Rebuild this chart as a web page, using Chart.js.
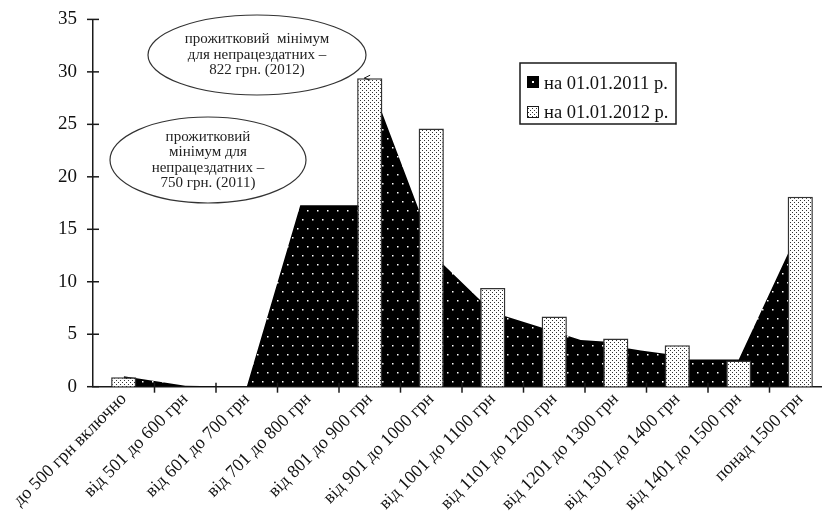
<!DOCTYPE html>
<html lang="uk">
<head>
<meta charset="UTF-8">
<title>Розподіл за розміром доходу</title>
<script src="https://cdn.jsdelivr.net/npm/chart.js"></script>
<style>
    html, body { margin: 0; padding: 0; background: #fff; overflow: hidden; }
    #wrap { width: 831px; height: 515px; }
</style>
</head>
<body>
<div id="wrap"><canvas id="incomeChart" width="831" height="515"></canvas></div>
<script>
const categories = [
    'до 500 грн включно', 'від 501 до 600 грн', 'від 601 до 700 грн', 'від 701 до 800 грн',
    'від 801 до 900 грн', 'від 901 до 1000 грн', 'від 1001 до 1100 грн', 'від 1101 до 1200 грн',
    'від 1201 до 1300 грн', 'від 1301 до 1400 грн', 'від 1401 до 1500 грн', 'понад 1500 грн'
];
// на 01.01.2012 р. - bars
const values2012 = [0.9, 0, 0, 0, 29.4, 24.6, 9.4, 6.7, 4.6, 3.95, 2.5, 18.1];
// на 01.01.2011 р. - area outline, x is position along the category axis (0 = first category)
const area2011X = [0, 1, 2, 2.87, 3.85, 4.0, 5.1, 6.0, 7.0, 7.43, 7.8, 8.21, 8.41, 8.8, 9.0, 10.0, 11.0];
const area2011Y = [1.0, 0.1, 0, 17.3, 17.3, 29.2, 12.2, 7.1, 5.25, 4.45, 4.3, 3.65, 3.45, 3.15, 2.6, 2.6, 15.2];
const yMax = 35;
const yStep = 5;
const legendLabels = ['на 01.01.2011 р.', 'на 01.01.2012 р.'];
const note2012 = ['прожитковий  мінімум', 'для непрацездатних –', '822 грн. (2012)'];
const note2011 = ['прожитковий', 'мінімум для', 'непрацездатних –', '750 грн. (2011)'];

const SERIF = "'Liberation Serif', 'Times New Roman', serif";
const INK = '#1a1a1a';

// black fill with sparse white dots
function darkPattern() {
    const c = document.createElement('canvas');
    c.width = 10; c.height = 18;
    const g = c.getContext('2d');
    g.fillStyle = '#000';
    g.fillRect(0, 0, 10, 18);
    g.fillStyle = '#fff';
    g.fillRect(2, 3, 1.5, 1.5);
    g.fillRect(7, 12, 1.5, 1.5);
    return g.createPattern(c, 'repeat');
}

// white fill with fine dark dots
function lightPattern() {
    const c = document.createElement('canvas');
    c.width = 4; c.height = 4;
    const g = c.getContext('2d');
    g.fillStyle = '#fff';
    g.fillRect(0, 0, 4, 4);
    g.fillStyle = '#333';
    g.fillRect(0, 0, 1, 1);
    g.fillRect(2, 2, 1, 1);
    return g.createPattern(c, 'repeat');
}

const dark = darkPattern();
const light = lightPattern();

function line(ctx, x1, y1, x2, y2) {
    ctx.beginPath();
    ctx.moveTo(x1, y1);
    ctx.lineTo(x2, y2);
    ctx.stroke();
}

function note(ctx, cx, cy, rx, ry, lines, lh) {
    ctx.beginPath();
    ctx.ellipse(cx, cy, rx, ry, 0, 0, Math.PI * 2);
    ctx.stroke();
    ctx.fillStyle = '#222';
    ctx.font = '15px ' + SERIF;
    ctx.textAlign = 'center';
    ctx.textBaseline = 'middle';
    const top = cy - (lines.length - 1) * lh / 2;
    lines.forEach((t, i) => ctx.fillText(t, cx, top + i * lh));
}

const extras = {
    id: 'extras',
    afterDraw(chart) {
        const { ctx, scales: { x, y } } = chart;
        ctx.save();
        ctx.strokeStyle = INK;
        ctx.lineWidth = 1.5;
        // tick marks crossing both axes
        y.ticks.forEach(t => {
            const py = y.getPixelForValue(t.value);
            line(ctx, x.left - 6, py, x.left + 6, py);
        });
        const w = x.width / categories.length;
        for (let i = 1; i <= categories.length; i++) {
            const px = x.left + i * w;
            line(ctx, px, y.bottom - 4, px, y.bottom + 6);
        }

        // arrowhead on top of the 801-900 bar
        const bar = chart.getDatasetMeta(0).data[4];
        const ay = bar.y;
        const ax = bar.x - bar.width / 2 + 7;
        ctx.lineWidth = 1;
        line(ctx, ax, ay, ax + 6, ay - 3);
        line(ctx, ax, ay, ax + 6, ay + 2);

        // callouts
        ctx.strokeStyle = '#333';
        ctx.lineWidth = 1.2;
        note(ctx, 257, 55, 109, 40, note2012, 15.5);
        note(ctx, 208, 160, 98, 43, note2011, 15.5);

        // legend
        ctx.lineWidth = 1.5;
        ctx.strokeStyle = INK;
        ctx.fillStyle = '#fff';
        ctx.fillRect(520, 63, 156, 61);
        ctx.strokeRect(520, 63, 156, 61);
        ctx.fillStyle = '#000';
        ctx.fillRect(527, 76, 12, 12);
        ctx.fillStyle = '#fff';
        ctx.fillRect(532, 81, 2, 2);
        ctx.fillStyle = light;
        ctx.fillRect(527, 106, 12, 12);
        ctx.lineWidth = 1;
        ctx.strokeRect(527.5, 106.5, 11, 11);
        ctx.fillStyle = '#111';
        ctx.font = '18.5px ' + SERIF;
        ctx.textAlign = 'left';
        ctx.textBaseline = 'alphabetic';
        ctx.fillText(legendLabels[0], 544, 89);
        ctx.fillText(legendLabels[1], 544, 118);
        ctx.restore();
    }
};

new Chart(document.getElementById('incomeChart'), {
    data: {
        labels: categories,
        datasets: [{
            type: 'bar',
            label: legendLabels[1],
            data: values2012,
            xAxisID: 'x',
            grouped: false,
            backgroundColor: light,
            borderColor: '#333',
            borderWidth: 1.5,
            barPercentage: 0.41,
            categoryPercentage: 1,
            order: 1
        }, {
            type: 'line',
            label: legendLabels[0],
            data: area2011X.map((v, i) => ({ x: v, y: area2011Y[i] })),
            xAxisID: 'x2',
            fill: 'origin',
            backgroundColor: dark,
            borderWidth: 0,
            pointRadius: 0,
            tension: 0,
            order: 2
        }]
    },
    options: {
        responsive: false,
        animation: false,
        layout: { padding: { top: 18, left: 0, right: 0, bottom: 0 } },
        plugins: {
            legend: { display: false },
            tooltip: { enabled: false }
        },
        scales: {
            x: {
                type: 'category',
                offset: true,
                grid: { display: false },
                border: { display: true, color: INK, width: 1.5 },
                ticks: {
                    autoSkip: false,
                    maxRotation: 45,
                    minRotation: 45,
                    padding: -6,
                    color: '#111',
                    font: { family: SERIF, size: 18 }
                },
                afterFit: s => { s.height = 128.3; }
            },
            x2: {
                type: 'linear',
                display: false,
                min: -0.5,
                max: categories.length - 0.5
            },
            y: {
                min: 0,
                max: yMax,
                grid: { display: false },
                border: { display: true, color: INK, width: 1.5 },
                ticks: {
                    stepSize: yStep,
                    padding: 8,
                    color: '#111',
                    font: { family: SERIF, size: 19 }
                },
                afterFit: s => { s.width = 93; }
            }
        }
    },
    plugins: [extras]
});
</script>
</body>
</html>
